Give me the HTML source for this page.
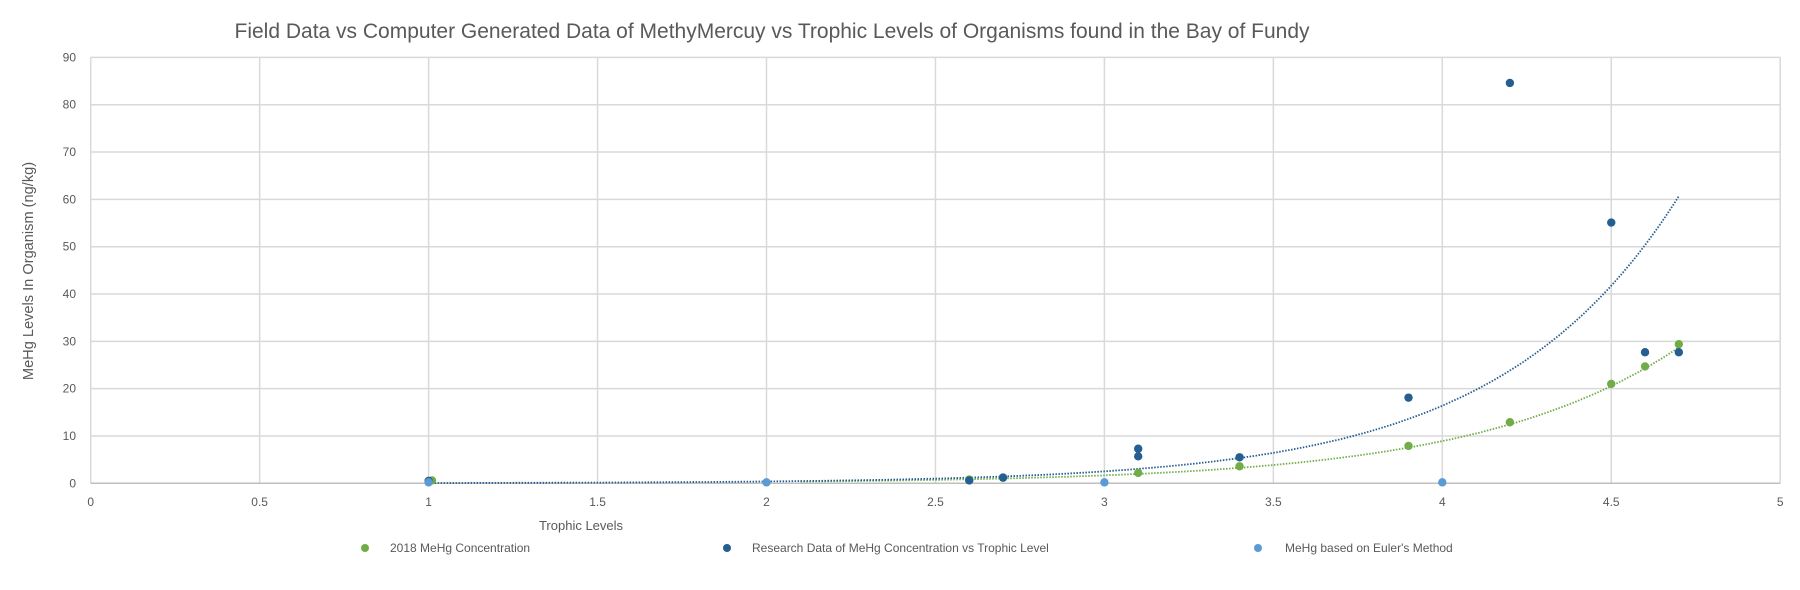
<!DOCTYPE html>
<html><head><meta charset="utf-8"><style>
html,body{margin:0;padding:0;background:#fff;}
svg{display:block;font-family:"Liberation Sans",sans-serif;}
</style></head><body>
<svg id="chart" width="1800" height="590" viewBox="0 0 1800 590">
<text x="772" y="38" text-anchor="middle" font-size="21" fill="#595959">Field Data vs  Computer Generated Data of MethyMercuy vs Trophic Levels of Organisms found in the Bay of Fundy</text>
<g id="grid"></g>
<g id="ticks"></g>
<g id="trends"></g>
<g id="marks"></g>
<text x="581" y="530" text-anchor="middle" font-size="13" fill="#595959">Trophic Levels</text>
<text transform="translate(33,271) rotate(-90)" text-anchor="middle" font-size="14.6" fill="#595959">MeHg Levels In Organism (ng/kg)</text>
<g>
<g><circle cx="365" cy="548" r="4" fill="#70ad47"/><text x="390" y="552" font-size="12" fill="#595959">2018 MeHg Concentration</text></g>
<g><circle cx="727" cy="548" r="4" fill="#255e91"/><text x="752" y="552" font-size="12" fill="#595959">Research Data of MeHg Concentration vs Trophic Level</text></g>
<g><circle cx="1258" cy="548" r="4" fill="#5b9bd5"/><text x="1285" y="552" font-size="12" fill="#595959">MeHg based on Euler's Method</text></g>
</g>
</svg>
<script>
const xTicks=[0,0.5,1,1.5,2,2.5,3,3.5,4,4.5,5];
const yTicks=[0,10,20,30,40,50,60,70,80,90];
const greenX=[1,1.01,2.6,2.7,3.1,3.4,3.9,4.2,4.5,4.6,4.7];
const greenY=[0.5,0.6,0.8,1.2,2.2,3.6,7.9,12.9,21.0,24.7,29.4];
const blueX=[1,2.6,2.7,3.1,3.1,3.4,3.9,4.2,4.5,4.6,4.7];
const blueY=[0.5,0.6,1.2,7.3,5.7,5.5,18.1,84.6,55.1,27.7,27.7];
const eulerX=[1,2,3,4];
const eulerY=[0.2,0.2,0.2,0.2];
const blueTrend=[0.00925,1.87,1,4.7];
const greenTrend=[0.0112,1.67,2.1,4.7];
const NS='http://www.w3.org/2000/svg';
const X=v=>90.7+v*337.9;
const Y=v=>483.3-v*4.732;
function mk(t,a,p){const e=document.createElementNS(NS,t);for(const k in a)e.setAttribute(k,a[k]);p.appendChild(e);return e;}
const grid=document.getElementById('grid'),ticks=document.getElementById('ticks');
xTicks.forEach(v=>{
 const l=mk('line',{x1:X(v),x2:X(v),y1:Y(90),y2:Y(0),stroke:'#d9d9d9','stroke-width':1.5},grid);
 
 
 const t=mk('text',{x:X(v),y:506,'text-anchor':'middle','font-size':12,fill:'#595959'},ticks);t.textContent=v;
 
 
});
yTicks.forEach(v=>{
 const l=mk('line',{x1:X(0),x2:X(5),y1:Y(v),y2:Y(v),stroke:v===0?'#bfbfbf':'#d9d9d9','stroke-width':1.5},grid);
 
 
 const t=mk('text',{x:76,y:Y(v)+4,'text-anchor':'end','font-size':12,fill:'#595959'},ticks);t.textContent=v;
 
 
});
const tr=document.getElementById('trends');
function trend(c,col,name){let d='';for(let i=0;i<=200;i++){const x=c[2]+(c[3]-c[2])*i/200;d+=(i?'L':'M')+X(x).toFixed(1)+','+Y(c[0]*Math.exp(c[1]*x)).toFixed(1);}
 const p=mk('path',{d:d,fill:'none',stroke:col,'stroke-width':1.8,'stroke-dasharray':'1.5 1.5'},tr);
 
 }
trend(greenTrend,'#70ad47','trendline-2018');
trend(blueTrend,'#255e91','trendline-research');
const m=document.getElementById('marks');
function pts(xs,ys,col,name){xs.forEach((x,i)=>{const c=mk('circle',{cx:X(x),cy:Y(ys[i]),r:4.2,fill:col},m);
 
 });}
pts(greenX,greenY,'#70ad47','point-2018');
pts(blueX,blueY,'#255e91','point-research');
pts(eulerX,eulerY,'#5b9bd5','point-euler');
</script>
</body></html>
